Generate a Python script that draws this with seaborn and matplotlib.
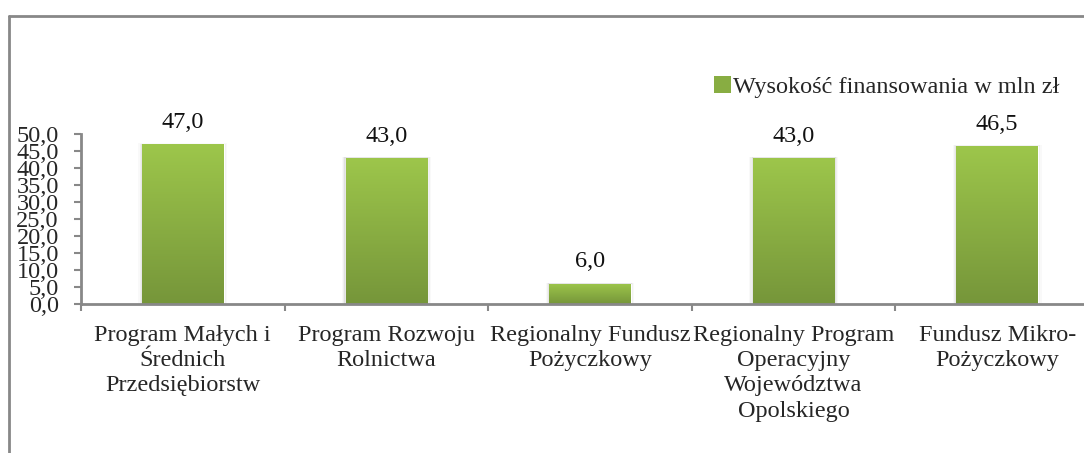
import numpy as np
import pandas as pd
import seaborn as sns
import matplotlib.pyplot as plt
from matplotlib.lines import Line2D
from matplotlib.patches import Rectangle
from matplotlib.colors import LinearSegmentedColormap

# data
categories = ["Program Małych i\nŚrednich\nPrzedsiębiorstw",
              "Program Rozwoju\nRolnictwa",
              "Regionalny Fundusz\nPożyczkowy",
              "Regionalny Program\nOperacyjny\nWojewództwa\nOpolskiego",
              "Fundusz Mikro-\nPożyczkowy"]
values = [47.0, 43.0, 6.0, 43.0, 46.5]
series_name = "Wysokość finansowania w mln zł"
yticks = [0, 5, 10, 15, 20, 25, 30, 35, 40, 45, 50]

df = pd.DataFrame({"kat": categories, "val": values})

sns.set_style("white")
plt.rcParams["font.family"] = ["Liberation Serif", "DejaVu Serif"]
fs = 17.5

top_col = "#9dc64b"
bot_col = "#76963a"
grad = LinearSegmentedColormap.from_list("g", [bot_col, top_col])

fig = plt.figure(figsize=(10.84, 4.53), dpi=100)
ax = fig.add_axes([81/1084, 149/453, 1018/1084, 170/453])

sns.barplot(data=df, x="kat", y="val", color=top_col, width=0.4, ax=ax)

# gradient fill for each bar
for p in ax.patches:
    x0, y0 = p.get_x(), p.get_y()
    w, h = p.get_width(), p.get_height()
    # soft shadow
    for k, a in [(0.006, 0.06), (0.012, 0.04), (0.018, 0.025)]:
        ax.add_patch(Rectangle((x0 - k, y0), w + 2 * k, h + k * 15,
                               facecolor="#000000", alpha=a,
                               edgecolor="none", zorder=1.5))
    img = ax.imshow(np.linspace(0, 1, 100).reshape(-1, 1), cmap=grad,
                    extent=[x0, x0 + w, y0, y0 + h], origin="lower",
                    aspect="auto", zorder=2)
    img.set_clip_path(p)
    p.set_zorder(2)
ax.set_xlim(-0.5, len(categories) - 0.5)
ax.set_ylim(0, 50)

# value labels
for i, v in enumerate(values):
    ax.annotate(f"{v:.1f}".replace(".", ","), (i, v), xytext=(0, 8),
                textcoords="offset points", ha="center", va="bottom",
                fontsize=fs, color="#111111")

ax.set_yticks(yticks)
ax.set_yticklabels([f"{t:.1f}".replace(".", ",") for t in yticks])
ax.set_xticks(range(len(categories)))
ax.set_xticklabels(categories)
ax.set_xticks(np.arange(-0.5, len(categories), 1.0), minor=True)
ax.tick_params(axis="x", which="major", length=0, pad=15, labelsize=fs)
ax.tick_params(axis="x", which="minor", length=5, width=1.5, color="#888888",
               direction="out", bottom=True)
ax.tick_params(axis="y", length=5, width=1.5, color="#888888", pad=11,
               labelsize=fs, left=True)
for lab in ax.get_xticklabels():
    lab.set_linespacing(1.27)

ax.set_xlabel("")
ax.set_ylabel("")
for s in ["top", "right"]:
    ax.spines[s].set_visible(False)
for s in ["left", "bottom"]:
    ax.spines[s].set_color("#888888")
    ax.spines[s].set_linewidth(2)

# legend
handle = Rectangle((0, 0), 1, 1, facecolor="#88ad42", edgecolor="none")
fig.legend([handle], [series_name], loc="center left",
           bbox_to_anchor=(714/1084, 1 - 87/453), frameon=False,
           fontsize=fs, handlelength=0.7, handleheight=0.7,
           handletextpad=0.1, borderpad=0, borderaxespad=0)

# outer chart border (cropped)
fig.add_artist(Line2D([9/1084, 1.0], [1 - 16/453, 1 - 16/453],
                      transform=fig.transFigure, color="#888888", lw=2))
fig.add_artist(Line2D([9/1084, 9/1084], [0, 1 - 16/453],
                      transform=fig.transFigure, color="#888888", lw=2))

fig.savefig("out.png", dpi=100)
